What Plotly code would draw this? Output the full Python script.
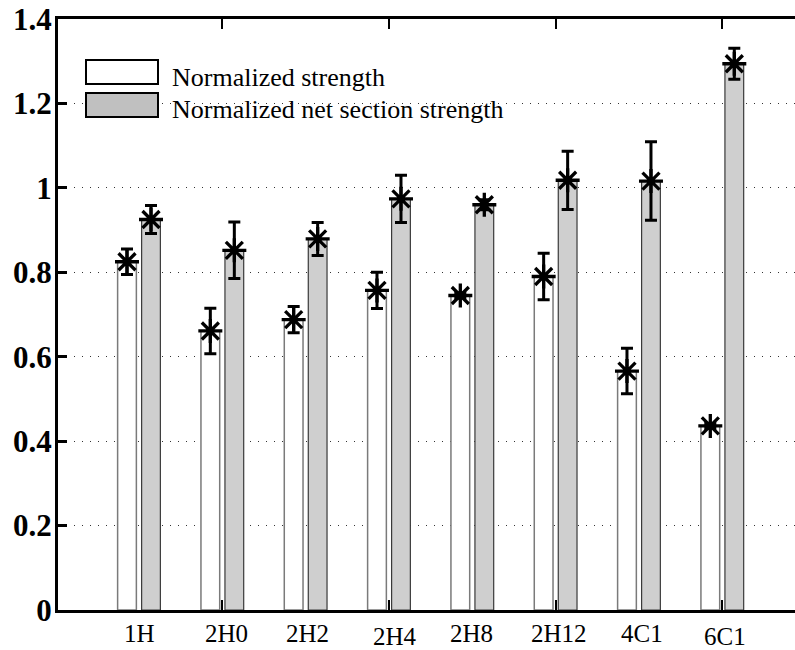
import plotly.graph_objects as go

# Specimen groups and measured ratios (mean and half-range of scatter)
groups = ["1H", "2H0", "2H2", "2H4", "2H8", "2H12", "4C1", "6C1"]
strength = [0.825, 0.661, 0.688, 0.757, 0.745, 0.790, 0.566, 0.436]
strength_err = [0.030, 0.054, 0.031, 0.043, 0.006, 0.055, 0.054, 0.006]
net_strength = [0.925, 0.852, 0.879, 0.974, 0.960, 1.018, 1.016, 1.294]
net_strength_err = [0.033, 0.067, 0.039, 0.056, 0.012, 0.069, 0.093, 0.037]
series_names = ["Normalized strength", "Normalized net section strength"]
ytick_vals = [0, 0.2, 0.4, 0.6, 0.8, 1.0, 1.2, 1.4]
ytick_text = ["0", "0.2", "0.4", "0.6", "0.8", "1", "1.2", "1.4"]

# Figure geometry (pixels)
W, H = 795, 650
ML, MT, MB, MR = 58, 19, 40, 0
PW, PH = W - ML - MR, H - MT - MB
X0, X1 = 0.028, 0.028 + PW / 83.33

SERIF = "Liberation Serif, Times New Roman, serif"
half_gap = 0.144
bar_w = 0.225

pos = list(range(1, len(groups) + 1))
x_white = [p - half_gap for p in pos]
x_gray = [p + half_gap for p in pos]


def px_to_paper_x(px):
    return (px - ML) / PW


def px_to_paper_y(py):
    return (H - MB - py) / PH


fig = go.Figure()

fig.add_trace(go.Bar(
    x=pos, y=strength, width=bar_w, offset=-half_gap - bar_w / 2,
    marker=dict(color="white", line=dict(color="#7a7a7a", width=1.5)),
    name=series_names[0], showlegend=False,
))
fig.add_trace(go.Bar(
    x=pos, y=net_strength, width=bar_w, offset=half_gap - bar_w / 2,
    marker=dict(color="#cfcfcf", line=dict(color="#3a3a3a", width=1.2)),
    name=series_names[1], showlegend=False,
))

for xs, ys, es in [(x_white, strength, strength_err),
                   (x_gray, net_strength, net_strength_err)]:
    fig.add_trace(go.Scatter(
        x=xs, y=ys, mode="markers",
        marker=dict(symbol="asterisk-open", size=20,
                    line=dict(color="black", width=3.3), color="black"),
        error_y=dict(type="data", array=es, visible=True,
                     color="black", thickness=3, width=6),
        showlegend=False, cliponaxis=False,
    ))

# Legend drawn as boxes plus text
legend_boxes = [((86, 60, 158, 84), "white"), ((86, 93, 158, 117), "#c0c0c0")]
legend_text_y = [77, 109]
for ((x0, y0, x1, y1), fill), name, ty in zip(legend_boxes, series_names, legend_text_y):
    fig.add_shape(type="rect", xref="paper", yref="paper",
                  x0=px_to_paper_x(x0), x1=px_to_paper_x(x1),
                  y0=px_to_paper_y(y1), y1=px_to_paper_y(y0),
                  fillcolor=fill, line=dict(color="black", width=2))
    fig.add_annotation(xref="paper", yref="paper",
                       x=px_to_paper_x(170), y=px_to_paper_y(ty),
                       xanchor="left", yanchor="middle", showarrow=False,
                       text=name, font=dict(family=SERIF, size=26, color="black"))

# Group labels under the axis
label_dx = [0, 4, 2, 6, -1, 3, 3, 3]
label_py = [634, 634, 633, 636, 633, 633, 633, 636]
for p, g, dx, py in zip(pos, groups, label_dx, label_py):
    fig.add_annotation(xref="x", yref="paper", x=p, y=px_to_paper_y(py),
                       xshift=dx, xanchor="center", yanchor="middle",
                       showarrow=False, text=g,
                       font=dict(family=SERIF, size=25, color="black"))

fig.update_layout(
    width=W, height=H,
    margin=dict(l=ML, r=MR, t=MT, b=MB, pad=0),
    paper_bgcolor="white", plot_bgcolor="white",
    barmode="overlay",
    showlegend=False,
    xaxis=dict(range=[X0, X1], tickvals=[2, 4, 6, 8], showticklabels=False,
               ticks="inside", ticklen=10, tickwidth=2, tickcolor="black",
               showline=True, linecolor="black", linewidth=3, mirror="ticks",
               showgrid=False, zeroline=False),
    yaxis=dict(range=[0, 1.4], tickvals=ytick_vals, ticktext=ytick_text,
               ticks="inside", ticklen=9, tickwidth=3, tickcolor="black",
               tickfont=dict(family=SERIF, size=31, color="black", weight="bold"),
               ticklabelstandoff=-3,
               showline=True, linecolor="black", linewidth=3, mirror=False,
               showgrid=True, gridcolor="#333333", gridwidth=1, griddash="1px,7px",
               zeroline=False),
)

fig.write_html("out.html")
